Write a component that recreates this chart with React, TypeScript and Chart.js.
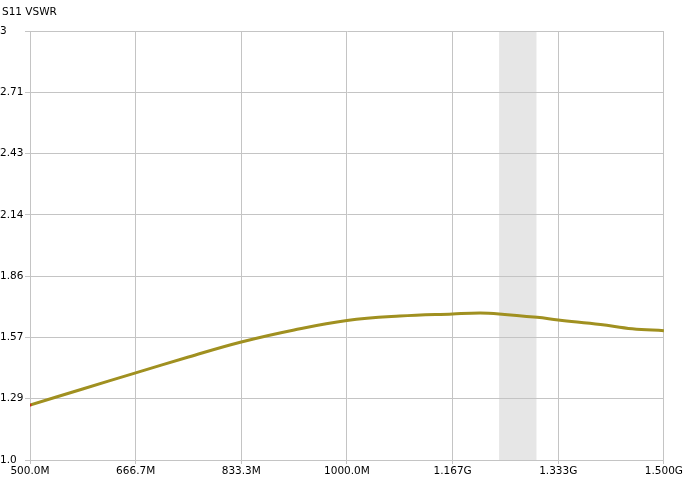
import React, { useEffect, useRef } from "react";
import { Chart, registerables } from "chart.js";

Chart.register(...registerables);

const freqMHz = [500, 583, 666.7, 750, 833.3, 916.7, 1000, 1083.3, 1166.7, 1210, 1240, 1300, 1333.3, 1400, 1450, 1500];
const vswr = [1.256, 1.331, 1.406, 1.48, 1.55, 1.606, 1.65, 1.671, 1.681, 1.685, 1.681, 1.665, 1.653, 1.632, 1.612, 1.603];

const xTickValues = [500, 666.667, 833.333, 1000, 1166.667, 1333.333, 1500];
const xTickLabels = ["500.0M", "666.7M", "833.3M", "1000.0M", "1.167G", "1.333G", "1.500G"];
const yTickValues = [1, 1 + 2 / 7, 1 + 4 / 7, 1 + 6 / 7, 1 + 8 / 7, 1 + 10 / 7, 1 + 12 / 7, 3];
const yTickLabels = ["1.0", "1.29", "1.57", "1.86", "2.14", "2.43", "2.71", "3"];
const bandMHz = [1240, 1299];
const titleText = "S11 VSWR";

const FONT = "DejaVu Sans";

export default function App() {
  const ref = useRef<HTMLCanvasElement>(null);
  useEffect(() => {
    document.body.style.margin = "0";
    const bandPlugin = {
      id: "band",
      beforeDraw(chart: any) {
        const { ctx, chartArea, scales } = chart;
        const x0 = scales.x.getPixelForValue(bandMHz[0]);
        const x1 = scales.x.getPixelForValue(bandMHz[1]);
        ctx.save();
        ctx.fillStyle = "#e6e6e6";
        ctx.fillRect(x0, chartArea.top, x1 - x0, chartArea.bottom - chartArea.top);
        ctx.restore();
      },
      afterDraw(chart: any) {
        const { ctx } = chart;
        ctx.save();
        ctx.fillStyle = "#000";
        ctx.font = `10.5px "${FONT}"`;
        ctx.textBaseline = "middle";
        ctx.textAlign = "left";
        ctx.fillText(titleText, 2, 12);
        ctx.restore();
      },
    };
    const chart = new Chart(ref.current!, {
      type: "line",
      data: {
        datasets: [
          {
            data: freqMHz.map((f, i) => ({ x: f, y: vswr[i] })),
            borderColor: "#a09020",
            borderWidth: 3,
            tension: 0.4,
            pointRadius: freqMHz.map((_, i) => (i === 0 ? 1.5 : 0)),
            pointBackgroundColor: "#d02020",
            pointBorderWidth: 0,
            fill: false,
          },
        ],
      },
      options: {
        animation: false,
        responsive: false,
        events: [],
        layout: { padding: { top: 31, right: 20, left: 0, bottom: 0 } },
        plugins: { legend: { display: false }, tooltip: { enabled: false }, title: { display: false } },
        scales: {
          x: {
            type: "linear",
            min: 500,
            max: 1500,
            afterBuildTicks: (s: any) => {
              s.ticks = xTickValues.map((v) => ({ value: v }));
            },
            afterFit: (s: any) => {
              s.height = 21;
            },
            grid: { color: "#c4c4c4", lineWidth: 1, tickLength: 4, drawTicks: true },
            border: { color: "#c4c4c4" },
            ticks: {
              autoSkip: false,
              maxRotation: 0,
              padding: 1,
              color: "#000",
              font: { family: FONT, size: 10.5 },
              callback: (_v: any, i: number) => xTickLabels[i],
            },
          },
          y: {
            type: "linear",
            min: 1,
            max: 3,
            afterBuildTicks: (s: any) => {
              s.ticks = yTickValues.map((v) => ({ value: v }));
            },
            afterFit: (s: any) => {
              s.width = 30;
            },
            grid: { color: "#c4c4c4", lineWidth: 1, tickLength: 5 },
            border: { color: "#c4c4c4" },
            ticks: {
              autoSkip: false,
              padding: 2,
              crossAlign: "far",
              color: "#000",
              font: { family: FONT, size: 10.5 },
              callback: (_v: any, i: number) => yTickLabels[i],
            },
          },
        },
      },
      plugins: [bandPlugin],
    } as any);
    return () => chart.destroy();
  }, []);
  return (
    <div style={{ width: 684, height: 481, background: "#fff" }}>
      <canvas ref={ref} width={684} height={481} style={{ display: "block" }} />
    </div>
  );
}
